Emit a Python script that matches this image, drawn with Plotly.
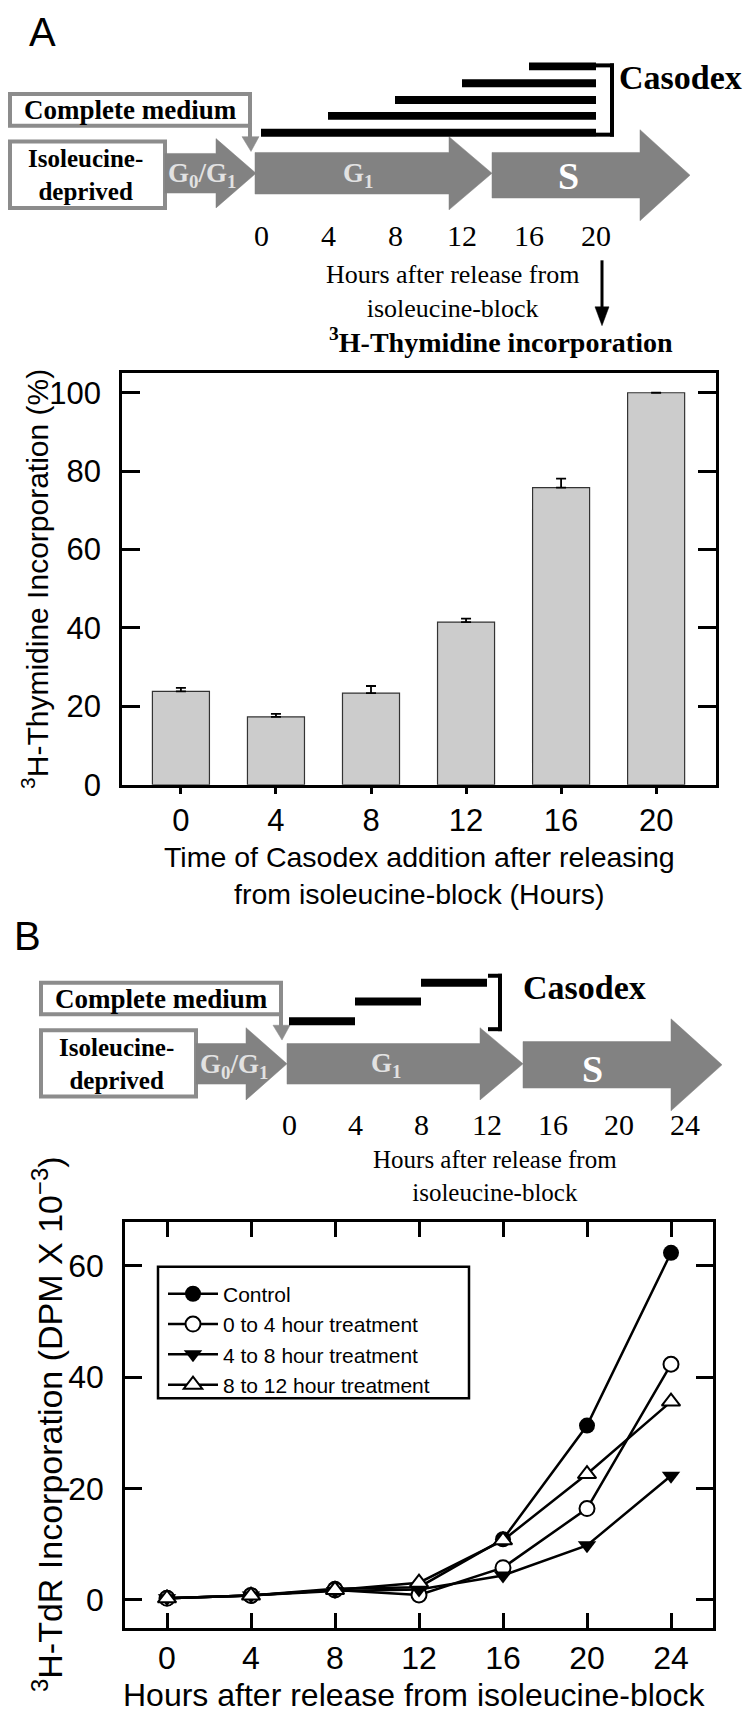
import plotly.graph_objects as go

W, H = 751, 1718
SANS = "Liberation Sans, Arial, sans-serif"
SERIF = "Liberation Serif, Times New Roman, serif"
GRAY = "#828282"
BORDER = "#8c8c8c"
GTEXT = "#e2e2e2"

# ---------------- data ----------------
# Panel A bar chart
add_time_labels = ["0", "4", "8", "12", "16", "20"]
incorporation_pct = [23.8, 17.3, 23.4, 41.5, 75.8, 100.0]
incorporation_err = [0.9, 0.8, 1.8, 0.9, 2.3, None]

# Panel A diagram: Casodex added at these hours, kept until 20 h
casodex_starts_A = [0, 4, 8, 12, 16]
casodex_end_A = 20
diagram_hours_A = [0, 4, 8, 12, 16, 20]

# Panel B diagram: Casodex treatment windows
casodex_windows_B = [(0, 4), (4, 8), (8, 12)]
diagram_hours_B = [0, 4, 8, 12, 16, 20, 24]

# Panel B line chart
hours = [0, 4, 8, 12, 16, 20, 24]
control = [0.3, 0.8, 2.0, 2.3, 10.9, 31.3, 62.3]
treat_0_4 = [0.3, 0.8, 1.8, 0.9, 5.8, 16.4, 42.3]
treat_4_8 = [0.3, 0.8, 1.6, 1.9, 4.4, 9.8, 22.3]
treat_8_12 = [0.3, 0.8, 1.8, 3.1, 10.7, 22.6, 35.6]
series_names = ["Control", "0 to 4 hour treatment", "4 to 8 hour treatment", "8 to 12 hour treatment"]


def X(px):
    return px / W


def Y(py):
    return 1 - py / H


shapes = []
annotations = []


def rect(x0, y0, x1, y1, color=BORDER, width=4, fill="white", layer="above"):
    shapes.append(dict(type="rect", xref="paper", yref="paper", x0=X(x0), x1=X(x1),
                       y0=Y(y1), y1=Y(y0), line=dict(color=color, width=width), fillcolor=fill,
                       layer=layer))


def poly(points, fill, line_color=None):
    d = "M " + " L ".join(f"{X(px):.5f},{Y(py):.5f}" for px, py in points) + " Z"
    shapes.append(dict(type="path", xref="paper", yref="paper", path=d, fillcolor=fill,
                       line=dict(color=line_color or fill, width=0.5), layer="above"))


def line(x0, y0, x1, y1, color="black", width=3):
    shapes.append(dict(type="line", xref="paper", yref="paper", x0=X(x0), x1=X(x1),
                       y0=Y(y0), y1=Y(y1), line=dict(color=color, width=width), layer="above"))


def arrow(x0, xh, x1, yc, bh, hh, fill=GRAY):
    poly([(x0, yc - bh), (xh, yc - bh), (xh, yc - hh), (x1, yc), (xh, yc + hh),
          (xh, yc + bh), (x0, yc + bh)], fill)


def ann(text, x, y, size, family=SERIF, color="black", bold=False, angle=0):
    annotations.append(dict(text=f"<b>{text}</b>" if bold else text,
                            x=X(x), y=Y(y), xref="paper", yref="paper",
                            showarrow=False, xanchor="center", yanchor="middle", textangle=angle,
                            font=dict(size=size, family=family, color=color)))


def boxes(dx, dy):
    # "Complete medium" box with its down arrow
    rect(2 + dx, 87 + dy, 242 + dx, 119 + dy)
    line(242 + dx, 117 + dy, 242 + dx, 132 + dy, color=BORDER, width=4)
    poly([(234 + dx, 130 + dy), (251 + dx, 130 + dy), (243 + dx, 145 + dy)], BORDER)
    ann("Complete medium", 122 + dx, 103 + dy, 27, bold=True)
    # Isoleucine-deprived box
    rect(2 + dx, 135 + dy, 157 + dx, 202 + dy)
    ann("Isoleucine-<br>deprived", 77 + dx, 169 + dy, 25, bold=True)


fig = go.Figure()

# ---------------- Panel A diagram ----------------
boxes(0, 0)
arrow(157, 208, 248, 167, 20, 35)
arrow(247, 441, 484, 167, 21, 37)
arrow(484, 632, 682, 169, 23, 46)
ann("G<sub>0</sub>/G<sub>1</sub>", 194, 169, 27, bold=True, color=GTEXT)
ann("G<sub>1</sub>", 350, 169, 27, bold=True, color=GTEXT)
ann("S", 560, 170, 38, bold=True, color="white")

bar_y_A = [126, 109, 93, 76, 59]
for start, yc in zip(casodex_starts_A, bar_y_A):
    shapes.append(dict(type="rect", xref="x3", yref="paper", x0=start, x1=casodex_end_A,
                       y0=Y(yc + 4), y1=Y(yc - 4), fillcolor="black", line=dict(width=0),
                       layer="above"))
line(604, 56, 604, 130, width=4)
line(588, 58, 606, 58, width=4)
line(588, 128, 606, 128, width=4)
ann("Casodex", 672, 70, 34, bold=True)
for h in diagram_hours_A:
    annotations.append(dict(text=str(h), x=h, y=Y(230), xref="x3", yref="paper",
                            showarrow=False, xanchor="center", yanchor="middle",
                            font=dict(size=30, family=SERIF, color="black")))
ann("Hours after release from<br>isoleucine-block", 444, 286, 26)
line(594, 255, 594, 306, width=3)
poly([(587, 302), (601, 302), (594, 321)], "black")
ann("<sup>3</sup>H-Thymidine incorporation", 493, 336, 28, bold=True)
ann("A", 34, 24, 40, family=SANS)

# ---------------- Panel B diagram ----------------
dB = 898
boxes(31, dB)
arrow(188, 238, 279, 1067, 20.5, 36.5)
arrow(279, 472, 515, 1067, 20.5, 36.5)
arrow(515, 663, 714, 1068, 23.5, 46.5)
ann("G<sub>0</sub>/G<sub>1</sub>", 226, 1069, 27, bold=True, color=GTEXT)
ann("G<sub>1</sub>", 378, 1068, 27, bold=True, color=GTEXT)
ann("S", 584, 1072, 38, bold=True, color="white")
bar_y_B = [1024, 1004, 985]
for (h0, h1), yc in zip(casodex_windows_B, bar_y_B):
    shapes.append(dict(type="rect", xref="x4", yref="paper", x0=h0, x1=h1,
                       y0=Y(yc + 4), y1=Y(yc - 4), fillcolor="black", line=dict(width=0),
                       layer="above"))
line(492, 976, 492, 1034, width=4)
line(480, 978, 494, 978, width=4)
line(480, 1032, 494, 1032, width=4)
ann("Casodex", 576, 990, 34, bold=True)
for h in diagram_hours_B:
    annotations.append(dict(text=str(h), x=h, y=Y(1128), xref="x4", yref="paper",
                            showarrow=False, xanchor="center", yanchor="middle",
                            font=dict(size=30, family=SERIF, color="black")))
ann("Hours after release from<br>isoleucine-block", 487, 1180, 25)
ann("B", 19, 938, 40, family=SANS)

# ---------------- Panel A bar chart ----------------
fig.add_trace(go.Bar(
    x=add_time_labels, y=incorporation_pct, width=0.6,
    marker=dict(color="#cccccc", line=dict(color="#333333", width=1.2)),
    error_y=dict(type="data", array=incorporation_err, symmetric=False,
                 arrayminus=[0] * len(incorporation_pct), color="black", thickness=1.8, width=5),
    xaxis="x", yaxis="y", showlegend=False))

ann("<sup>3</sup>H-Thymidine Incorporation (%)", 27, 577, 30, family=SANS, angle=-90)
ann("Time of Casodex addition after releasing<br>from isoleucine-block (Hours)", 411, 877,
    28.5, family=SANS)

# ---------------- Panel B line chart ----------------
styles = [
    dict(symbol="circle", color="black", size=16),
    dict(symbol="circle", color="white", size=15, line=dict(color="black", width=2)),
    dict(symbol="triangle-down", color="black", size=16),
    dict(symbol="triangle-up", color="white", size=16, line=dict(color="black", width=2)),
]
for name, vals, st in zip(series_names, [control, treat_0_4, treat_4_8, treat_8_12], styles):
    fig.add_trace(go.Scatter(x=hours, y=vals, mode="lines+markers", name=name,
                             line=dict(color="black", width=2.5), marker=st,
                             xaxis="x2", yaxis="y2"))

ann("<sup>3</sup>H-TdR Incorporation (DPM X 10<sup>\u22123</sup>)", 40, 1432, 34, family=SANS,
    angle=-90)
ann("Hours after release from isoleucine-block", 406, 1705, 32, family=SANS)

# legend frame
rect(150, 1272, 461, 1405, color="black", width=2.5, fill="white", layer="below")

# hidden diagram hour axes
fig.add_trace(go.Scatter(x=[None], y=[None], xaxis="x3", yaxis="y3", showlegend=False,
                         hoverinfo="skip"))
fig.add_trace(go.Scatter(x=[None], y=[None], xaxis="x4", yaxis="y3", showlegend=False,
                         hoverinfo="skip"))

axis_common = dict(showgrid=False, zeroline=False, showline=True, linecolor="black",
                   linewidth=2.5, tickcolor="black", tickwidth=2.5)
font_a = dict(family=SANS, size=31, color="black")
font_b = dict(family=SANS, size=32, color="black")

fig.update_layout(
    width=W, height=H, margin=dict(l=0, r=0, t=0, b=0),
    paper_bgcolor="white", plot_bgcolor="rgba(0,0,0,0)",
    xaxis=dict(domain=[X(114), X(708)], anchor="y", type="category", range=[-0.62, 5.63],
               mirror=True, ticks="outside", ticklen=6, ticklabelstandoff=0, tickfont=font_a,
               **axis_common),
    yaxis=dict(domain=[Y(785), Y(369)], anchor="x", range=[0, 105],
               tickvals=[0, 20, 40, 60, 80, 100], mirror="ticks", ticks="inside", ticklen=18,
               ticklabelstandoff=12, tickfont=font_a, **axis_common),
    xaxis2=dict(domain=[X(117), X(705)], anchor="y2", range=[-2, 26], tickvals=hours,
                mirror="ticks", ticks="inside", ticklen=15, ticklabelstandoff=0, tickfont=font_b,
                **axis_common),
    yaxis2=dict(domain=[Y(1637), Y(1227)], anchor="x2", range=[-5, 67.8], tickvals=[0, 20, 40, 60],
                mirror="ticks", ticks="inside", ticklen=17, ticklabelstandoff=12, tickfont=font_b,
                **axis_common),
    xaxis3=dict(domain=[0, 1], anchor="y3", range=[-253 / 16.75, (751 - 253) / 16.75], visible=False),
    xaxis4=dict(domain=[0, 1], anchor="y3", range=[-281 / 16.5, (751 - 281) / 16.5], visible=False),
    yaxis3=dict(domain=[0, 1], anchor="x3", range=[0, 1], visible=False),
    legend=dict(x=X(155), y=Y(1279), xanchor="left", yanchor="top", bgcolor="rgba(0,0,0,0)",
                borderwidth=0, itemwidth=50,
                font=dict(family=SANS, size=21, color="black"), tracegroupgap=0),
    shapes=shapes, annotations=annotations,
)

fig.write_html("out.html")
